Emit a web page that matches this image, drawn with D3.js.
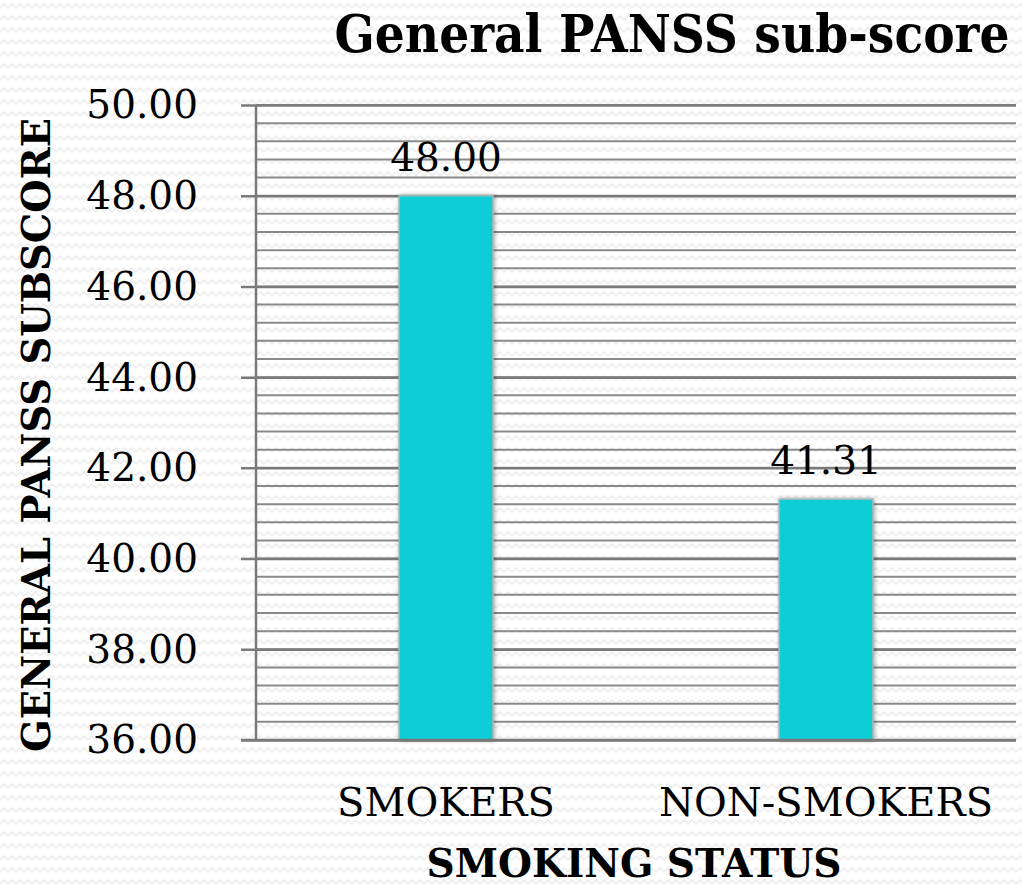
<!DOCTYPE html>
<html>
<head>
<meta charset="utf-8">
<script src="https://cdn.jsdelivr.net/npm/d3@7"></script>
<style>
  html, body { margin: 0; padding: 0; background: #fff; }
  svg { display: block; }
  text { font-family: "DejaVu Serif", "Liberation Serif", serif; fill: #000; }
</style>
</head>
<body>
<svg id="chart" width="1022" height="886"></svg>
<script>
// Chart data
const categories = ["SMOKERS", "NON-SMOKERS"];
const scores = [48.00, 41.31];
const yTicks = [36, 38, 40, 42, 44, 46, 48, 50];
const yDomain = [36, 50];

const W = 1022, H = 886;
const margin = { left: 256, right: 6, top: 105, bottom: 146 };

const svg = d3.select("#chart");
const defs = svg.append("defs");

// Faint zigzag texture for the background
const pat = defs.append("pattern")
  .attr("id", "zigzag")
  .attr("width", 8).attr("height", 12)
  .attr("patternUnits", "userSpaceOnUse");
pat.append("path")
  .attr("d", "M0,8 L4,4 L8,8")
  .attr("fill", "none")
  .attr("stroke", "#ededed")
  .attr("stroke-width", 1.6);

// Soft edge shadow around the bars
const shadow = defs.append("filter").attr("id", "barShadow")
  .attr("x", "-20%").attr("y", "-5%").attr("width", "140%").attr("height", "110%");
shadow.append("feDropShadow")
  .attr("dx", 1).attr("dy", 0).attr("stdDeviation", 2)
  .attr("flood-color", "#000").attr("flood-opacity", 0.35);

svg.append("rect").attr("width", W).attr("height", H).attr("fill", "#fff");
svg.append("rect").attr("width", W).attr("height", H).attr("fill", "url(#zigzag)");

const x = d3.scaleBand()
  .domain(categories)
  .range([margin.left, W - margin.right])
  .paddingInner(0.753)
  .paddingOuter(0.753 / 2);

const y = d3.scaleLinear()
  .domain(yDomain)
  .range([H - margin.bottom, margin.top]);

// Minor gridlines every 0.4
const minor = d3.range(0, 36).map(i => yDomain[0] + i * 0.4);
svg.append("g").selectAll("line")
  .data(minor.filter(v => v <= yDomain[1] + 1e-9))
  .join("line")
  .attr("x1", margin.left).attr("x2", W - margin.right)
  .attr("y1", d => y(d)).attr("y2", d => y(d))
  .attr("stroke", "#8a8a8a").attr("stroke-width", 2);

// Major ticks and labels
const yAxis = d3.axisLeft(y)
  .tickValues(yTicks)
  .tickSize(W - margin.right - margin.left + 15)
  .tickSizeOuter(0)
  .tickPadding(0)
  .tickFormat(d3.format(".2f"));

const gy = svg.append("g")
  .attr("transform", `translate(${W - margin.right},0)`)
  .call(yAxis);
gy.select(".domain").remove();
gy.selectAll(".tick line")
  .attr("stroke", "#7a7a7a").attr("stroke-width", 2.5);
gy.selectAll(".tick text")
  .attr("x", -(W - margin.right) + 198)
  .attr("dy", "0.33em")
  .style("font-size", "39px")
  .style("font-family", "'DejaVu Serif', serif")
  .attr("fill", "#000");

// Vertical axis line
svg.append("line")
  .attr("x1", margin.left).attr("x2", margin.left)
  .attr("y1", y(yDomain[1])).attr("y2", y(yDomain[0]))
  .attr("stroke", "#7a7a7a").attr("stroke-width", 2.5);

// Bars
svg.append("g").selectAll("rect")
  .data(categories)
  .join("rect")
  .attr("x", d => x(d))
  .attr("width", x.bandwidth())
  .attr("y", (d, i) => y(scores[i]))
  .attr("height", (d, i) => y(yDomain[0]) - y(scores[i]))
  .attr("fill", "#11ced7")
  .attr("stroke", "#9fb5b7")
  .attr("stroke-width", 1.5)
  .attr("filter", "url(#barShadow)");

// Redraw baseline over bar shadows
svg.append("line")
  .attr("x1", margin.left - 15).attr("x2", W - margin.right)
  .attr("y1", y(yDomain[0])).attr("y2", y(yDomain[0]))
  .attr("stroke", "#7a7a7a").attr("stroke-width", 2.5);

// Value labels
svg.append("g").selectAll("text")
  .data(categories)
  .join("text")
  .attr("x", d => x(d) + x.bandwidth() / 2)
  .attr("y", (d, i) => y(scores[i]) - 25)
  .attr("text-anchor", "middle")
  .style("font-size", "39px")
  .text((d, i) => d3.format(".2f")(scores[i]));

// Category labels
svg.append("g").selectAll("text")
  .data(categories)
  .join("text")
  .attr("x", d => x(d) + x.bandwidth() / 2)
  .attr("y", 816)
  .attr("text-anchor", "middle")
  .style("font-size", "40px")
  .text(d => d);

// Axis titles
svg.append("text")
  .attr("transform", "translate(634,877) scale(1,1.08)")
  .attr("text-anchor", "middle")
  .attr("textLength", 415).attr("lengthAdjust", "spacingAndGlyphs")
  .style("font-size", "36px").style("font-weight", "bold")
  .text("SMOKING STATUS");

svg.append("text")
  .attr("transform", "translate(50,435) rotate(-90)")
  .attr("text-anchor", "middle")
  .attr("textLength", 634).attr("lengthAdjust", "spacingAndGlyphs")
  .style("font-size", "40px").style("font-weight", "bold")
  .text("GENERAL PANSS SUBSCORE");

// Title
svg.append("text")
  .attr("transform", "translate(672,52) scale(1,1.15)")
  .attr("text-anchor", "middle")
  .attr("textLength", 675).attr("lengthAdjust", "spacingAndGlyphs")
  .style("font-size", "45px").style("font-weight", "bold")
  .text("General PANSS sub-score");
</script>
</body>
</html>
